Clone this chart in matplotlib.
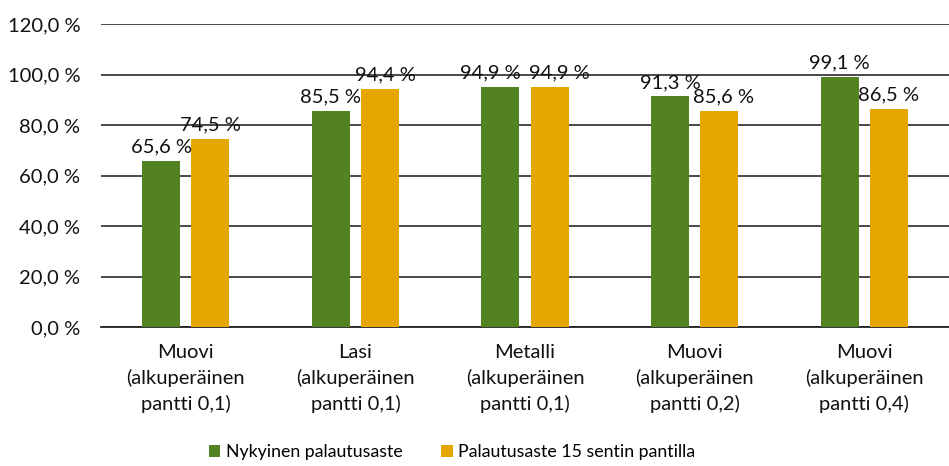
import matplotlib.pyplot as plt
import numpy as np

plt.rcParams['font.family'] = ['Lato', 'DejaVu Sans']

categories = ['Muovi\n(alkuperäinen\npantti 0,1)', 'Lasi\n(alkuperäinen\npantti 0,1)',
              'Metalli\n(alkuperäinen\npantti 0,1)', 'Muovi\n(alkuperäinen\npantti 0,2)',
              'Muovi\n(alkuperäinen\npantti 0,4)']
nykyinen = [65.6, 85.5, 94.9, 91.3, 99.1]
pantti15 = [74.5, 94.4, 94.9, 85.6, 86.5]
series_names = ['Nykyinen palautusaste', 'Palautusaste 15 sentin pantilla']
yticks = [0, 20, 40, 60, 80, 100, 120]

green = '#538220'
orange = '#E5A600'
fs = 14.5

# label nudges in points, like Excel pushes overlapping labels apart
nudge1 = [0, 0, -7, 0, 0]
nudge2 = [0, 4, 7, 3, 0]

fig = plt.figure(figsize=(9.49, 4.66), dpi=100)
ax = fig.add_axes([101 / 949, 1 - 327 / 466, 848 / 949, 303 / 466])

x = np.arange(len(categories))
w = 0.225
off = 0.145
b1 = ax.bar(x - off, nykyinen, w, color=green, label=series_names[0], zorder=3)
b2 = ax.bar(x + off, pantti15, w, color=orange, label=series_names[1], zorder=3)

for bars, vals, nud in [(b1, nykyinen, nudge1), (b2, pantti15, nudge2)]:
    for rect, v, n in zip(bars, vals, nud):
        ax.annotate('{:.1f} %'.format(v).replace('.', ','),
                    (rect.get_x() + rect.get_width() / 2, v),
                    xytext=(n, 4), textcoords='offset points',
                    ha='center', va='bottom', fontsize=fs, color='#111111')

ax.set_ylim(0, 120)
ax.set_xlim(-0.5, len(categories) - 0.5)
ax.set_yticks(yticks)
ax.set_yticklabels(['{:.1f} %'.format(t).replace('.', ',') for t in yticks])
ax.set_xticks(x)
ax.set_xticklabels(categories, linespacing=1.55)
ax.tick_params(axis='both', length=0, labelsize=fs, colors='#111111')
ax.tick_params(axis='x', pad=12)
ax.tick_params(axis='y', pad=15)

ax.grid(axis='y', color='#3a3a3a', linewidth=1.3, zorder=0)
for s in ['left', 'right', 'top']:
    ax.spines[s].set_visible(False)
ax.spines['bottom'].set_color('#222222')
ax.spines['bottom'].set_linewidth(1.3)

fig.legend(loc='lower center', bbox_to_anchor=(452 / 949, -0.022), ncol=2, frameon=False,
           fontsize=12.8, handlelength=0.65, handleheight=0.65, handletextpad=0.3,
           columnspacing=2.2)

fig.savefig('out.png', dpi=100)
